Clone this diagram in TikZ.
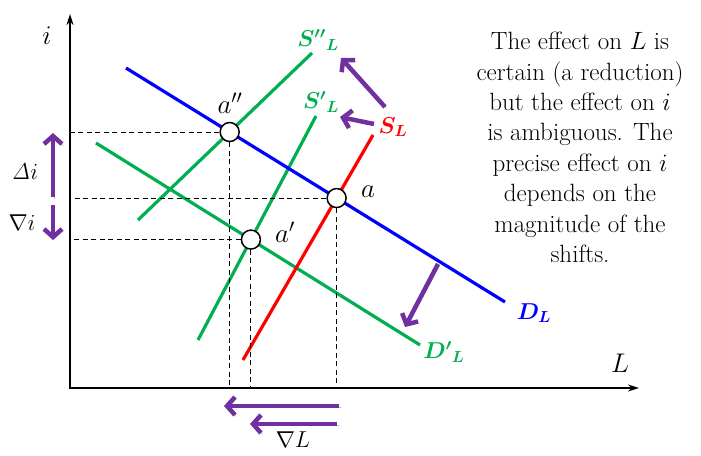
\RequirePackage{fix-cm}
\documentclass[tikz,border=0pt]{standalone}
\usepackage{bm}
\usetikzlibrary{arrows.meta}
\definecolor{dblue}{RGB}{0,0,255}
\definecolor{dgreen}{RGB}{0,176,80}
\definecolor{dred}{RGB}{255,0,0}
\definecolor{dpurple}{RGB}{112,48,160}
\begin{document}
\begin{tikzpicture}[x=1pt,y=-1pt,
  curve/.style={line width=3.2pt},
  guide/.style={line width=1pt,dash pattern=on 5pt off 3.5pt},
  pt/.style={circle,draw=black,fill=white,line width=1.5pt,minimum size=19pt,inner sep=0pt},
  shiftarrow/.style={draw=dpurple,line width=4.5pt,-{Straight Barb[length=8pt,width=18pt]},
    preaction={draw=black!25,transform canvas={shift={(1.5pt,-1.5pt)}}}},
  lab/.style={font=\fontsize{27}{27}\selectfont,inner sep=0pt},
  alab/.style={font=\fontsize{23}{23}\selectfont,inner sep=0pt},
  clab/.style={font=\fontsize{23}{23}\selectfont\bfseries,inner sep=0pt},
]
\useasboundingbox (0,0) rectangle (701,455);
% axes
\coordinate (O) at (70,388);
\coordinate (Ytip) at (70,14);
\coordinate (Xtip) at (639,388);
\draw[line width=1.8pt,{Stealth[length=11pt,width=7pt]}-{Stealth[length=11pt,width=7pt]}] (Ytip) -- (O) -- (Xtip);
\node[lab] (ilab) at (47,36) {$i$};
\node[lab] (Llab) at (620,363) {$L$};
% curve end points
\coordinate (D1) at (126,68);   \coordinate (D2) at (505,302);
\coordinate (Dp1) at (96,143);  \coordinate (Dp2) at (420,345);
\coordinate (S1) at (243,360);  \coordinate (S2) at (373,135);
\coordinate (Sp1) at (198,340); \coordinate (Sp2) at (316,116);
\coordinate (Spp1) at (138,220);\coordinate (Spp2) at (312,53);
\coordinate (a) at (intersection of D1--D2 and S1--S2);
\coordinate (app) at (intersection of D1--D2 and Spp1--Spp2);
\coordinate (ap) at (intersection of Dp1--Dp2 and Sp1--Sp2);
% curves
\draw[curve,dgreen] (Dp1) -- (Dp2);
\draw[curve,dgreen] (Sp1) -- (Sp2);
\draw[curve,dgreen] (Spp1) -- (Spp2);
\draw[curve,dred] (S1) -- (S2);
\draw[curve,dblue] (D1) -- (D2);
% equilibrium points
\node[pt] (pa) at (a) {};
\node[pt] (papp) at (app) {};
\node[pt] (pap) at (ap) {};
% guides
\draw[guide] (pa.west) -- (pa -| O);
\draw[guide] (pa.south) -- (pa |- O);
\draw[guide] (papp.west) -- (papp -| O);
\draw[guide] (papp.south) -- (papp |- O);
\draw[guide] (pap.west) -- (pap -| O);
\draw[guide] (pap.south) -- (pap |- O);
% point labels
\node[lab] (la) at (368,192) {$a$};
\node[lab] (lapp) at (230,103) {$a''$};
\node[lab] (lap) at (285,232) {$a'$};
% curve labels
\node[clab,text=dblue] (lD) at (534,313) {$\bm{D_L}$};
\node[clab,text=dgreen] (lDp) at (444,352) {$\bm{D'{}_L}$};
\node[clab,text=dred] (lS) at (393,127) {$\bm{S_L}$};
\node[clab,text=dgreen] (lSp) at (321,102) {$\bm{S'{}_L}$};
\node[clab,text=dgreen] (lSpp) at (318,40) {$\bm{S''{}_L}$};
% shift arrows
\coordinate (sa1) at (385,107); \coordinate (sa2) at (341,58);
\coordinate (sb1) at (374,124); \coordinate (sb2) at (340,117);
\draw[shiftarrow] (sa1) -- (sa2);
\draw[shiftarrow] (sb1) -- (sb2);
\coordinate (da1) at (438,264); \coordinate (da2) at (405,327);
\draw[shiftarrow] (da1) -- (da2);
\coordinate (di1) at (53,197); \coordinate (di2) at (53,133);
\draw[shiftarrow] (di1) -- (di2);
\coordinate (ni1) at (53,205); \coordinate (ni2) at (53,240);
\draw[shiftarrow] (ni1) -- (ni2);
\coordinate (nl1) at (339,406); \coordinate (nl2) at (224,406);
\draw[shiftarrow] (nl1) -- (nl2);
\coordinate (nm1) at (337,424); \coordinate (nm2) at (250,424);
\draw[shiftarrow] (nm1) -- (nm2);
\node[alab] (ldi) at (25,172) {$\mathit{\Delta} i$};
\node[alab] (lni) at (22,223) {$\nabla i$};
\node[alab] (lnl) at (293,440) {$\nabla L$};
% text
\node[font=\fontsize{25}{30.4}\selectfont,align=center,inner sep=0pt,anchor=north] (txt) at (580,32)
 {The effect on $L$ is\\ certain (a reduction)\\ but the effect on $i$\\ is ambiguous. The\\ precise effect on $i$\\ depends on the\\ magnitude of the\\ shifts.};
\end{tikzpicture}
\end{document}
